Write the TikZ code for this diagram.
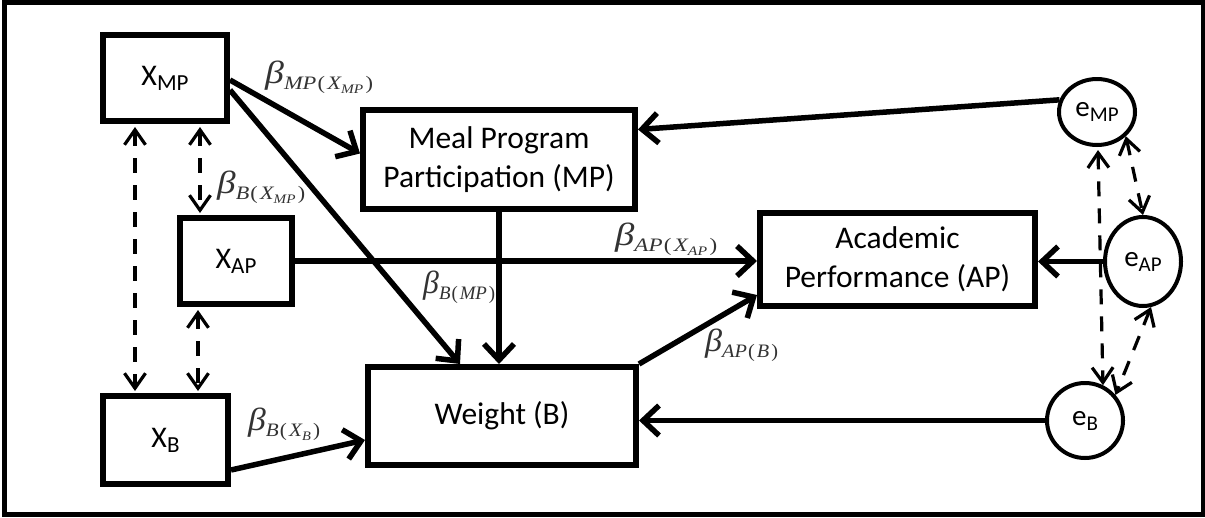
\documentclass[tikz,border=0pt]{standalone}
\usepackage{fontspec}
\usepackage{graphicx}
\setmainfont{Carlito}
\newfontfamily\tms{Liberation Serif}
\usetikzlibrary{arrows.meta,calc,shapes.geometric}

\newcommand\fsz{\fontsize{31.5}{39}\selectfont}
\newcommand\xsz{\fontsize{30}{32}\selectfont}
\newcommand\esz{\fontsize{29}{30}\selectfont}
\newcommand\nsub[1]{\raisebox{-5pt}{\fontsize{23}{23}\selectfont #1}}
\newcommand\esub[1]{\raisebox{-5pt}{\fontsize{21}{21}\selectfont #1}}
\newcommand\bet{{\fontsize{32}{32}\selectfont\itshape β}}
\newcommand\cs[1]{\raisebox{-6pt}{\fontsize{19}{19}\selectfont\itshape #1}}
\newcommand\ccs[1]{\raisebox{-4pt}{\fontsize{13}{13}\selectfont\itshape #1}}
\newcommand\lp{\kern1pt{\upshape(}\kern2pt}
\newcommand\rp{\kern2pt{\upshape)}}
\newcommand\coeflab[2]{\tms\resizebox{#1}{\height}{\bet\cs{#2}}}

\tikzset{
  box/.style={draw, line width=6pt, rectangle, inner sep=0pt, align=center, font=\fsz},
  xbox/.style={box, font=\xsz},
  err/.style={draw, line width=4pt, ellipse, inner sep=0pt, font=\esz},
  arr/.style={line width=5.5pt, -{Straight Barb[length=16pt,width=30pt]}},
  darr/.style={line width=3.2pt, dash pattern=on 15pt off 12pt,
    {Straight Barb[length=15pt,width=21pt]}-{Straight Barb[length=15pt,width=21pt]}},
  coef/.style={inner sep=0pt, anchor=base west, text=black!80},
}

\begin{document}
\begin{tikzpicture}[x=1pt,y=-1pt]
\useasboundingbox (0,0) rectangle (1205,517);
\fill[white] (0,0) rectangle (1205,517);
\draw[line width=5pt] (4,2.5) rectangle (1203,514.5);

% observed variables
\node[xbox, minimum width=124pt, minimum height=86pt] (XMP) at (165,78) {X\nsub{MP}};
\node[xbox, minimum width=112pt, minimum height=86pt] (XAP) at (236,261) {X\nsub{AP}};
\node[xbox, minimum width=125pt, minimum height=88pt] (XB) at (165.5,440) {X\nsub{B}};
\node[box, minimum width=272pt, minimum height=99pt] (MP) at (499,159.5) {Meal Program\\Participation (MP)};
\node[box, minimum width=268pt, minimum height=98pt] (Weight) at (502,416) {\raisebox{4pt}{Weight (B)}};
\node[box, minimum width=275pt, minimum height=93pt] (AP) at (897.5,259.5) {Academic\\Performance (AP)};

% error terms
\node[err, minimum width=76pt, minimum height=66pt] (eMP) at (1097,112) {e\esub{MP}};
\node[err, minimum width=76pt, minimum height=89pt] (eAP) at (1143,261.5) {e\esub{AP}};
\node[err, minimum width=76pt, minimum height=75pt] (eB) at (1085,420.5) {e\esub{B}};

% structural paths
\draw[arr] ($(XMP.east)+(0,2)$) -- ($(MP.west)+(0,-6)$);
\draw[arr] ($(XMP.east)+(0,12)$) -- ($(Weight.north west)+(95,0)$);
\draw[arr] (MP.south) -- (MP.south |- Weight.north);
\draw[arr] (XAP.east) -- (XAP.east -| AP.west);
\draw[arr] (Weight.north east) -- ($(AP.south west)+(0,-14)$);
\draw[arr] ($(XB.east)+(0,30)$) -- ($(Weight.west)+(0,24)$);
\draw[arr] (eMP.162) -- ($(MP.east)+(0,-30)$);
\draw[arr] (eAP.west) -- (eAP.west -| AP.east);
\draw[arr] (eB.west) -- (eB.west -| Weight.east);

% correlations
\draw[darr] ($(XMP.south west)+(35,3)$) -- ($(XB.north west)+(35,-2)$);
\draw[darr] ($(XMP.south west)+(100,3)$) -- ($(XAP.north west)+(23,-2)$);
\draw[darr] ($(XAP.south west)+(21,3)$) -- ($(XB.north west)+(98,-2)$);
\draw[darr] ($(eMP.south)+(1,3)$) -- (eB.63);
\draw[darr] (eMP.-40) -- (eAP.north);
\draw[darr] (eAP.-80) -- (eB.40);

% coefficient labels
\node[coef] (lMPX) at (265,83) {\coeflab{108pt}{MP\lp X\ccs{MP}\rp}};
\node[coef] (lBX) at (217,193) {\coeflab{88pt}{B\lp X\ccs{MP}\rp}};
\node[coef] (lAPX) at (615,245) {\coeflab{102pt}{AP\lp X\ccs{AP}\rp}};
\node[coef] (lBMP) at (423,293) {\coeflab{72pt}{B\lp MP\rp}};
\node[coef] (lAPB) at (705,351) {\coeflab{73pt}{AP\lp B\rp}};
\node[coef] (lBXB) at (248,430) {\coeflab{72pt}{B\lp X\ccs{B}\rp}};
\end{tikzpicture}
\end{document}
